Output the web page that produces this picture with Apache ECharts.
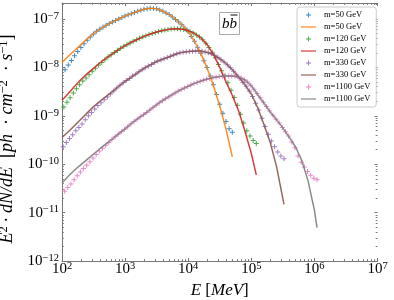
<!DOCTYPE html>
<html>
<head>
<meta charset="utf-8">
<script src="https://cdn.jsdelivr.net/npm/echarts@6/dist/echarts.min.js"></script>
<style>html,body{margin:0;padding:0;background:#fff}#c{width:394px;height:300px}</style>
</head>
<body>
<div id="c"></div>
<script>
// ---- data (log10 of E in MeV, log10 of E^2 dN/dE) ----
const massesGeV = [50, 120, 330, 1100];
const seriesNames = ['m=50 GeV', 'm=120 GeV', 'm=330 GeV', 'm=1100 GeV'];
const scatterStepLog = 0.05; // spacing of the tabulated energy bins (decades), ending at E = m

// scatter points (ascending energy, last point at E = m)
const blueLogV = [-8.05,-7.95,-7.86,-7.76,-7.67,-7.59,-7.51,-7.44,-7.37,-7.31,
  -7.255,-7.21,-7.17,-7.13,-7.095,-7.06,-7.03,-7.00,-6.97,-6.94,
  -6.915,-6.89,-6.865,-6.84,-6.82,-6.80,-6.79,-6.78,-6.785,-6.79,
  -6.815,-6.84,-6.875,-6.91,-6.96,-7.01,-7.065,-7.12,-7.19,-7.26,
  -7.36,-7.46,-7.585,-7.71,-7.865,-8.00,-8.18,-8.36,-8.56,-8.76,
  -8.95,-9.12,-9.27,-9.34];
const greenLogV = [-8.82,-8.72,-8.63,-8.53,-8.44,-8.36,-8.28,-8.22,-8.15,-8.08,
  -8.02,-7.95,-7.90,-7.84,-7.785,-7.74,-7.695,-7.65,-7.605,-7.565,
  -7.53,-7.495,-7.46,-7.43,-7.40,-7.37,-7.345,-7.32,-7.30,-7.28,
  -7.26,-7.245,-7.23,-7.215,-7.205,-7.20,-7.20,-7.205,-7.215,-7.235,
  -7.26,-7.29,-7.33,-7.37,-7.43,-7.50,-7.59,-7.69,-7.80,-7.94,
  -8.07,-8.18,-8.32,-8.47,-8.62,-8.78,-8.97,-9.15,-9.31,-9.42,
  -9.51,-9.57];
const purpleLogV = [-9.64,-9.55,-9.47,-9.39,-9.31,-9.24,-9.17,-9.08,-9.00,-8.93,
  -8.86,-8.79,-8.73,-8.67,-8.61,-8.55,-8.49,-8.425,-8.37,-8.32,
  -8.27,-8.23,-8.18,-8.14,-8.09,-8.05,-8.01,-7.97,-7.94,-7.90,
  -7.87,-7.845,-7.82,-7.795,-7.77,-7.745,-7.72,-7.70,-7.685,-7.675,
  -7.67,-7.665,-7.66,-7.66,-7.665,-7.68,-7.70,-7.72,-7.75,-7.79,
  -7.84,-7.89,-7.945,-8.01,-8.08,-8.155,-8.23,-8.31,-8.39,-8.49,
  -8.60,-8.74,-8.88,-9.05,-9.22,-9.38,-9.52,-9.64,-9.75,-9.83,
  -9.89];
const pinkLogV = [-10.56,-10.48,-10.41,-10.32,-10.24,-10.16,-10.09,-10.02,-9.95,-9.87,
  -9.80,-9.73,-9.67,-9.61,-9.55,-9.49,-9.435,-9.38,-9.33,-9.28,
  -9.225,-9.17,-9.12,-9.07,-9.02,-8.98,-8.93,-8.88,-8.83,-8.78,
  -8.73,-8.69,-8.65,-8.61,-8.57,-8.53,-8.49,-8.455,-8.425,-8.395,
  -8.365,-8.335,-8.31,-8.285,-8.265,-8.245,-8.23,-8.215,-8.20,-8.19,
  -8.185,-8.18,-8.18,-8.18,-8.185,-8.20,-8.22,-8.255,-8.30,-8.37,
  -8.45,-8.54,-8.63,-8.72,-8.81,-8.90,-8.99,-9.07,-9.15,-9.24,
  -9.33,-9.42,-9.54,-9.66,-9.83,-9.96,-10.06,-10.15,-10.23,-10.29,
  -10.32];

// fitted curves
const orangeLogE = [2.0,2.1,2.2,2.3,2.4,2.5,2.6,2.7,2.8,2.9,3.0,3.1,3.2,3.3,3.4,3.5,3.6,3.7,3.8,3.9,4.0,4.1,4.2,4.3,4.4,4.5,4.6,4.699];
const orangeLogV = [-7.90,-7.77,-7.65,-7.53,-7.41,-7.30,-7.21,-7.13,-7.06,-7.00,-6.94,-6.89,-6.84,-6.80,-6.78,-6.79,-6.84,-6.91,-7.01,-7.12,-7.26,-7.46,-7.71,-8.02,-8.38,-8.80,-9.28,-9.85];
const redLogE = [2.0,2.1,2.2,2.3,2.4,2.5,2.6,2.7,2.8,2.9,3.0,3.1,3.2,3.3,3.4,3.5,3.6,3.7,3.8,3.9,4.0,4.1,4.2,4.3,4.4,4.5,4.6,4.7,4.8,4.9,5.0,5.079];
const redLogV = [-8.68,-8.54,-8.39,-8.25,-8.13,-8.02,-7.91,-7.81,-7.72,-7.63,-7.55,-7.48,-7.42,-7.36,-7.31,-7.27,-7.24,-7.21,-7.20,-7.21,-7.24,-7.30,-7.39,-7.53,-7.73,-8.00,-8.30,-8.58,-8.90,-9.32,-9.78,-10.22];
const brownLogE = [2.0,2.1,2.2,2.3,2.4,2.5,2.6,2.7,2.8,2.9,3.0,3.1,3.2,3.3,3.4,3.5,3.6,3.7,3.8,3.9,4.0,4.1,4.2,4.3,4.4,4.5,4.6,4.7,4.8,4.9,5.0,5.1,5.2,5.3,5.4,5.5185];
const brownLogV = [-9.45,-9.33,-9.20,-9.07,-8.94,-8.81,-8.70,-8.60,-8.50,-8.39,-8.29,-8.20,-8.11,-8.02,-7.95,-7.88,-7.83,-7.78,-7.73,-7.69,-7.67,-7.66,-7.66,-7.69,-7.74,-7.82,-7.92,-8.05,-8.20,-8.36,-8.55,-8.83,-9.18,-9.55,-10.05,-10.83];
const grayLogE = [2.0,2.1,2.2,2.3,2.4,2.5,2.6,2.7,2.8,2.9,3.0,3.1,3.2,3.3,3.4,3.5,3.6,3.7,3.8,3.9,4.0,4.1,4.2,4.3,4.4,4.5,4.6,4.7,4.8,4.9,5.0,5.1,5.2,5.3,5.4,5.5,5.6,5.7,5.8,5.9,6.0,6.0414];
const grayLogV = [-10.39,-10.25,-10.12,-10.01,-9.90,-9.79,-9.68,-9.58,-9.48,-9.37,-9.27,-9.16,-9.06,-8.97,-8.87,-8.77,-8.68,-8.60,-8.52,-8.45,-8.39,-8.33,-8.28,-8.24,-8.21,-8.19,-8.18,-8.18,-8.20,-8.26,-8.38,-8.56,-8.74,-8.92,-9.08,-9.25,-9.44,-9.64,-9.92,-10.35,-10.95,-11.31];

// axes (log10 units)
const xMinLog = 2, xMaxLog = 7;
const yMinLog = -12, yMaxLog = -6.67;
const xMajorTicks = [2, 3, 4, 5, 6, 7];
const yMajorTicks = [-12, -11, -10, -9, -8, -7];

// ---- build ----
const FONT = '"Liberation Serif", "DejaVu Serif", serif';
const markerColors = ['#1f77b4', '#2ca02c', '#9467bd', '#e377c2'];
const lineColors = ['#ff7f0e', '#d62728', '#8c564b', '#7f7f7f'];
const scatterSets = [blueLogV, greenLogV, purpleLogV, pinkLogV];
const lineSets = [[orangeLogE, orangeLogV], [redLogE, redLogV], [brownLogE, brownLogV], [grayLogE, grayLogV]];
const CROSS = 'path://M4,0H6V4H10V6H6V10H4V6H0V4H4Z';
const LINE_TAG = '\u0000L';

function scatterPoints(massGeV, logV) {
  const topLogE = Math.log10(massGeV * 1000);
  const n = logV.length;
  return logV.map((v, i) => [topLogE - scatterStepLog * (n - 1 - i), v]);
}

const series = [];
const legendData = [];
for (let s = 0; s < 4; s++) {
  series.push({
    type: 'scatter', name: seriesNames[s], symbol: CROSS, symbolSize: 5,
    itemStyle: { color: markerColors[s], opacity: 0.85 },
    data: scatterPoints(massesGeV[s], scatterSets[s]),
    xAxisIndex: 0, yAxisIndex: 0, silent: true
  });
  series.push({
    type: 'line', name: seriesNames[s] + LINE_TAG, symbol: 'none', showSymbol: false,
    lineStyle: { color: lineColors[s], width: 1.5, opacity: 0.9 },
    itemStyle: { color: lineColors[s] },
    data: lineSets[s][0].map((e, i) => [e, lineSets[s][1][i]]),
    xAxisIndex: 0, yAxisIndex: 0, silent: true
  });
  legendData.push({ name: seriesNames[s] });
  legendData.push({
    name: seriesNames[s] + LINE_TAG,
    itemStyle: { color: 'rgba(0,0,0,0)', borderWidth: 0, opacity: 0 },
    lineStyle: { color: lineColors[s], width: 2, opacity: 0.55 }
  });
}

const minorX = [];
for (let n = xMinLog; n < xMaxLog; n++) for (let k = 2; k < 10; k++) minorX.push(n + Math.log10(k));
const minorY = [];
for (let n = yMinLog; n < -6; n++) for (let k = 2; k < 10; k++) { const v = n + Math.log10(k); if (v < yMaxLog - 0.02) minorY.push(v); }

const spine = { color: '#777', width: 1 };
const tickLabelRich = {
  b: { fontFamily: FONT, fontSize: 15, lineHeight: 17, color: '#000' },
  s: { fontFamily: FONT, fontSize: 10.5, verticalAlign: 'top', color: '#000' }
};
function expLabel(v) {
  const e = Math.round(v);
  return '{b|10}{s|' + (e < 0 ? '\u2212' + (-e) : e) + '}';
}
const nameRich = {
  i: { fontFamily: FONT, fontStyle: 'italic', fontSize: 17, color: '#000', lineHeight: 20 },
  n: { fontFamily: FONT, fontSize: 17, color: '#000', lineHeight: 20 },
  s: { fontFamily: FONT, fontSize: 12, color: '#000', verticalAlign: 'top' }
};
const yNameRich = {
  i: { fontFamily: FONT, fontStyle: 'italic', fontSize: 18, color: '#000', lineHeight: 21 },
  n: { fontFamily: FONT, fontSize: 18, color: '#000', lineHeight: 21 },
  s: { fontFamily: FONT, fontSize: 12.5, color: '#000', verticalAlign: 'top' }
};

function xAx(pos, major, extra) {
  return Object.assign({
    type: 'value', position: pos, min: xMinLog, max: xMaxLog, interval: 1,
    axisLine: { show: major, onZero: false, lineStyle: spine },
    axisTick: major ? { show: true, inside: true, length: 3, lineStyle: spine, customValues: xMajorTicks }
                    : { show: true, inside: true, length: 1.8, lineStyle: spine, customValues: minorX },
    axisLabel: { show: false }, splitLine: { show: false }
  }, extra || {});
}
function yAx(pos, major, showLine, extra) {
  return Object.assign({
    type: 'value', position: pos, min: yMinLog, max: yMaxLog, interval: 1,
    axisLine: { show: showLine, onZero: false, lineStyle: spine },
    axisTick: major ? { show: true, inside: true, length: 3, lineStyle: spine, customValues: yMajorTicks }
                    : { show: true, inside: true, length: 1.8, lineStyle: spine, customValues: minorY },
    axisLabel: { show: false }, splitLine: { show: false }
  }, extra || {});
}

const option = {
  animation: false,
  backgroundColor: '#fff',
  grid: { left: 62, right: 16.5, top: 3, bottom: 39, containLabel: false, outerBoundsMode: 'none' },
  xAxis: [
    xAx('bottom', true, {
      axisLabel: { show: true, margin: 0, formatter: expLabel, rich: tickLabelRich, customValues: xMajorTicks },
      name: '{i|E} {n|[}{i|MeV}{n|]}', nameLocation: 'middle', nameGap: 18,
      nameTextStyle: { fontFamily: FONT, fontSize: 17, rich: nameRich }
    }),
    xAx('top', true),
    xAx('bottom', false),
    xAx('top', false)
  ],
  yAxis: [
    yAx('left', true, true, {
      axisLabel: { show: true, margin: 3, formatter: expLabel, rich: tickLabelRich, customValues: yMajorTicks },
      name: '{i|E}{s|2}{n|\u2009·\u2009}{i|dN/dE}{n|\u2002[}{i|ph}{n|\u2002· }{i|cm}{s|\u22122}{n|\u2002· }{i|s}{s|\u22121}{n|]}',
      nameLocation: 'middle', nameGap: 37, nameRotate: 90,
      nameTextStyle: { fontFamily: FONT, fontSize: 18, rich: yNameRich, padding: [0, 14, 0, 0] }
    }),
    yAx('right', true, false),
    yAx('left', false, false),
    yAx('right', false, false)
  ],
  legend: {
    orient: 'vertical', left: 297, top: 7,
    padding: [3, 6, 3, 3],
    itemWidth: 15, itemHeight: 5, itemGap: 2,
    backgroundColor: 'rgba(255,255,255,0.85)', borderColor: '#ccc', borderWidth: 1, borderRadius: 3,
    textStyle: { fontFamily: FONT, fontSize: 8.5, lineHeight: 10, color: '#000', padding: [0, 0, 0, 3] },
    formatter: name => name.replace(LINE_TAG, ''),
    data: legendData,
    selectedMode: false
  },
  graphic: [
    { type: 'rect', shape: { x: 219.5, y: 12.5, width: 20, height: 22 }, style: { fill: '#fff', stroke: '#aaa', lineWidth: 1 }, z: 10 },
    { type: 'text', x: 229.5, y: 24, style: { text: 'bb', font: 'italic 15px ' + FONT, fill: '#000', align: 'center', verticalAlign: 'middle', textAlign: 'center', textVerticalAlign: 'middle' }, z: 11 },
    { type: 'line', shape: { x1: 230.5, y1: 15, x2: 237.5, y2: 15 }, style: { stroke: '#666', lineWidth: 1.6 }, z: 11 }
  ],
  series: series
};

const chart = echarts.init(document.getElementById('c'), null, { renderer: 'canvas', width: 394, height: 300 });
chart.setOption(option);
</script>
</body>
</html>
